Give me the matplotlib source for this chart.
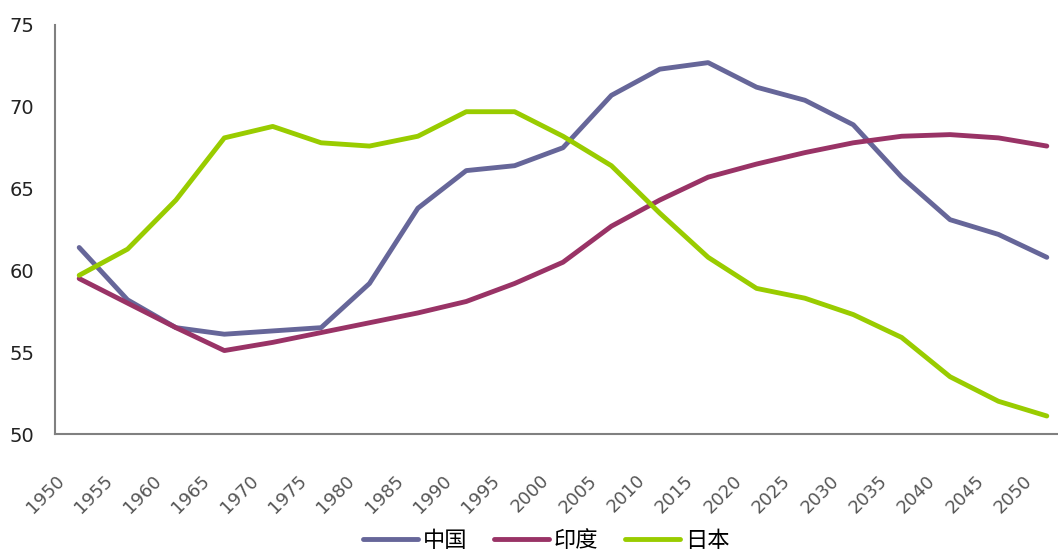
import matplotlib
matplotlib.use("Agg")
import matplotlib.pyplot as plt
import matplotlib.transforms as mtransforms

plt.rcParams['font.family'] = ['DejaVu Sans', 'Noto Sans CJK SC']

years = [str(y) for y in range(1950, 2055, 5)]
china = [61.4, 58.2, 56.5, 56.1, 56.3, 56.5, 59.2, 63.8, 66.1, 66.4, 67.5,
         70.7, 72.3, 72.7, 71.2, 70.4, 68.9, 65.7, 63.1, 62.2, 60.8]
india = [59.5, 58.0, 56.5, 55.1, 55.6, 56.2, 56.8, 57.4, 58.1, 59.2, 60.5,
         62.7, 64.3, 65.7, 66.5, 67.2, 67.8, 68.2, 68.3, 68.1, 67.6]
japan = [59.7, 61.3, 64.3, 68.1, 68.8, 67.8, 67.6, 68.2, 69.7, 69.7, 68.2,
         66.4, 63.5, 60.8, 58.9, 58.3, 57.3, 55.9, 53.5, 52.0, 51.1]
names = ['中国', '印度', '日本']
colors = ['#666699', '#993366', '#99CC00']

fig = plt.figure(figsize=(10.58, 5.55), dpi=100)
# axes runs slightly past the right edge, like the original category axis
ax = fig.add_axes([55/1058, 121/555, 1016/1058, 409/555])

x = list(range(len(years)))
for vals, name, c in zip([china, india, japan], names, colors):
    ax.plot(x, vals, color=c, lw=3.5, label=name, solid_capstyle='round')

ax.set_xlim(-0.5, len(years) - 0.5)
ax.set_ylim(50, 75)
ax.set_yticks([50, 55, 60, 65, 70, 75])
ax.tick_params(axis='y', length=0, pad=15, labelsize=14, labelcolor='#222222')
ax.set_xticks(x)
ax.set_xticklabels(years, rotation=45, ha='right', va='top')
ax.tick_params(axis='x', length=0, pad=27, labelsize=13, labelcolor='#555555')
shift = mtransforms.ScaledTranslation(-0.11, 0, fig.dpi_scale_trans)
for lab in ax.get_xticklabels():
    lab.set_transform(lab.get_transform() + shift)

for s in ['top', 'right']:
    ax.spines[s].set_visible(False)
for s in ['left', 'bottom']:
    ax.spines[s].set_color('#808080')
    ax.spines[s].set_linewidth(1.5)

fig.legend(loc='center', bbox_to_anchor=(0.516, 0.026), ncol=3, frameon=False,
           prop={'family': ['Noto Sans CJK SC', 'DejaVu Sans'], 'size': 16},
           handlelength=2.5, handletextpad=0.2, columnspacing=1.2,
           borderpad=0.1)

fig.savefig('out.png', dpi=100)
